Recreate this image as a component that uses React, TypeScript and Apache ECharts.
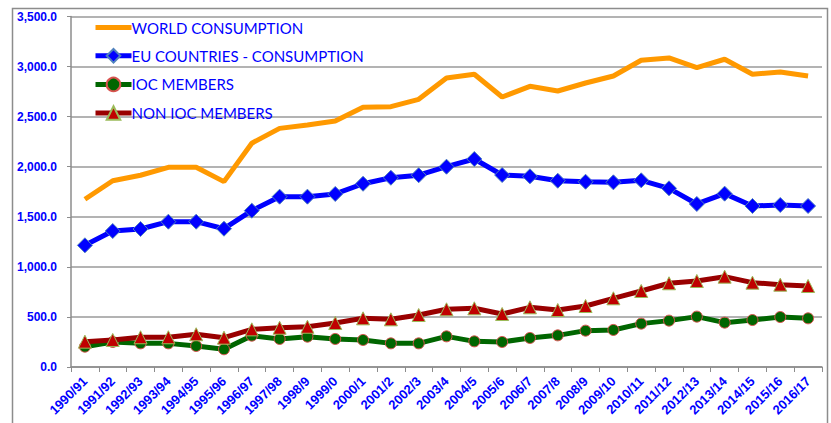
import React, { useEffect, useRef } from "react";
import * as echarts from "echarts";

const categories = [
  "1990/91", "1991/92", "1992/93", "1993/94", "1994/95", "1995/96", "1996/97", "1997/98", "1998/9", "1999/0",
  "2000/1", "2001/2", "2002/3", "2003/4", "2004/5", "2005/6", "2006/7", "2007/8", "2008/9", "2009/10",
  "2010/11", "2011/12", "2012/13", "2013/14", "2014/15", "2015/16", "2016/17",
];

const worldConsumption = [
  1675, 1860, 1915, 1994, 1994, 1851, 2235, 2383, 2417, 2456,
  2593, 2600, 2673, 2886, 2923, 2696, 2803, 2756, 2836, 2906,
  3063, 3086, 2989, 3073, 2923, 2946, 2906,
];

const euConsumption = [
  1215, 1358, 1378, 1451, 1451, 1381, 1561, 1701, 1701, 1728,
  1830, 1890, 1915, 2000, 2077, 1917, 1904, 1860, 1850, 1844,
  1864, 1784, 1628, 1731, 1608, 1618, 1608,
];

const iocMembers = [
  203, 250, 236, 236, 210, 177, 313, 280, 303, 280,
  270, 236, 236, 306, 256, 250, 290, 316, 363, 370,
  433, 463, 503, 443, 469, 499, 486,
];

const nonIocMembers = [
  253, 270, 297, 297, 327, 293, 376, 392, 402, 439,
  486, 476, 519, 576, 586, 529, 596, 569, 609, 686,
  759, 836, 859, 902, 842, 822, 809,
];

const seriesNames = [
  "WORLD CONSUMPTION",
  "EU COUNTRIES - CONSUMPTION",
  "IOC MEMBERS",
  "NON IOC MEMBERS",
];

export default function App() {
  const ref = useRef<HTMLDivElement>(null);
  useEffect(() => {
    if (!ref.current) return;
    const chart = echarts.init(ref.current, null, { renderer: "svg" });
    chart.setOption({
      animation: false,
      backgroundColor: "#ffffff",
      graphic: [
        {
          type: "rect",
          shape: { x: 12.5, y: 8.5, width: 815, height: 430 },
          style: { fill: "none", stroke: "#8c8c8c", lineWidth: 1.5 },
          silent: true,
          z: -1,
        },
      ],
      grid: {
        left: 71,
        right: 9,
        top: 16.5,
        bottom: 56,
        containLabel: false,
        outerBoundsMode: "none",
      },
      legend: {
        orient: "vertical",
        left: 88,
        top: 15,
        itemGap: 13,
        itemWidth: 36,
        itemHeight: 17,
        lineStyle: { width: 5 },
        textStyle: {
          color: "#0000ff",
          fontSize: 15,
          fontFamily: "Lato, 'Noto Sans', sans-serif",
          padding: [0, 0, 0, -5],
        },
        data: [
          { name: seriesNames[0], itemStyle: { opacity: 0 } },
          { name: seriesNames[1] },
          { name: seriesNames[2] },
          { name: seriesNames[3] },
        ],
      },
      xAxis: {
        type: "category",
        data: categories,
        boundaryGap: true,
        axisLine: { lineStyle: { color: "#8c8c8c", width: 1.5 } },
        axisTick: { show: true, length: 5, interval: 0, lineStyle: { color: "#8c8c8c" } },
        axisLabel: {
          interval: 0,
          rotate: 45,
          color: "#0000ff",
          fontWeight: "bold",
          fontSize: 13,
          fontFamily: "Arial, 'Liberation Sans', sans-serif",
          margin: 12,
        },
      },
      yAxis: {
        type: "value",
        min: 0,
        max: 3500,
        interval: 500,
        axisLine: { show: true, lineStyle: { color: "#8c8c8c", width: 1.5 } },
        axisTick: { show: true, length: 4, lineStyle: { color: "#8c8c8c" } },
        splitLine: { lineStyle: { color: "#9a9a9a", width: 1.5 } },
        axisLabel: {
          color: "#0000ff",
          fontWeight: "bold",
          fontSize: 12,
          fontFamily: "Arial, 'Liberation Sans', sans-serif",
          margin: 14,
          formatter: (v: number) =>
            v.toLocaleString("en-US", { minimumFractionDigits: 1, maximumFractionDigits: 1 }),
        },
      },
      series: [
        {
          name: seriesNames[0],
          type: "line",
          data: worldConsumption,
          showSymbol: false,
          symbol: "none",
          lineStyle: { color: "#ff9900", width: 5 },
          itemStyle: { color: "#ff9900" },
          z: 2,
        },
        {
          name: seriesNames[1],
          type: "line",
          data: euConsumption,
          symbol: "diamond",
          symbolSize: 15,
          lineStyle: { color: "#0000ff", width: 5 },
          itemStyle: { color: "#0000ff", borderColor: "#4f81bd", borderWidth: 1 },
          z: 3,
        },
        {
          name: seriesNames[2],
          type: "line",
          data: iocMembers,
          symbol: "circle",
          symbolSize: 11,
          lineStyle: { color: "#006600", width: 5 },
          itemStyle: { color: "#006600", borderColor: "#d9534f", borderWidth: 1 },
          z: 4,
        },
        {
          name: seriesNames[3],
          type: "line",
          data: nonIocMembers,
          symbol: "triangle",
          symbolSize: 13,
          lineStyle: { color: "#990000", width: 5 },
          itemStyle: { color: "#c00000", borderColor: "#9bbb59", borderWidth: 1 },
          z: 5,
        },
      ],
    });
    return () => chart.dispose();
  }, []);
  return (
    <div
      ref={ref}
      style={{ position: "fixed", left: 0, top: 0, width: 831, height: 423 }}
    />
  );
}
